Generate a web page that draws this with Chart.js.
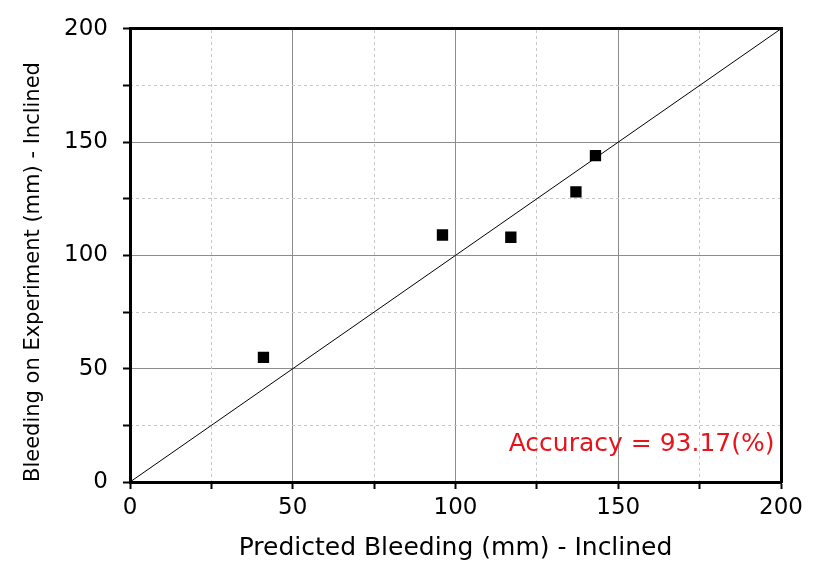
<!DOCTYPE html>
<html>
<head>
<meta charset="utf-8">
<script src="https://cdn.jsdelivr.net/npm/chart.js@4/dist/chart.umd.min.js"></script>
<style>
  html, body { margin: 0; padding: 0; background: #fff; }
  #wrap { width: 814px; height: 567px; }
</style>
</head>
<body>
<div id="wrap"><canvas id="myChart" width="814" height="567"></canvas></div>
<script>
// values
const predicted = [41, 96, 117, 137, 143];   // x, mm
const experiment = [55, 109, 108, 128, 144]; // y, mm
const axisMin = 0, axisMax = 200;
const xTitle = 'Predicted Bleeding (mm) - Inclined';
const yTitle = 'Bleeding on Experiment (mm) - Inclined';
const accuracyText = 'Accuracy = 93.17(%)';

const fam = '"DejaVu Sans", "Liberation Sans", Arial, sans-serif';
const tickFont = { family: fam, size: 23 };

const points = predicted.map((x, i) => ({ x: x, y: experiment[i] }));

// major lines solid grey, minor ones are drawn by the second axes (dashed)
const majorColor = ctx => (ctx.tick && ctx.tick.value % 50 === 0) ? '#8c8c8c' : 'rgba(0,0,0,0)';
const minorColor = ctx => (ctx.tick && ctx.tick.value % 50 !== 0) ? '#c8c8c8' : 'rgba(0,0,0,0)';
const labelEvery50 = v => (v % 50 === 0 ? v : '');

const accuracyLabel = {
   id: 'accuracyLabel',
   afterDatasetsDraw(chart) {
      const c = chart.ctx, xs = chart.scales.x, ys = chart.scales.y;
      c.save();
      c.font = '25px ' + fam;
      c.fillStyle = '#e8141c';
      c.textAlign = 'right';
      c.textBaseline = 'middle';
      c.fillText(accuracyText, xs.getPixelForValue(198), ys.getPixelForValue(16.5));
      c.restore();
   }
};

new Chart(document.getElementById('myChart'), {
   type: 'scatter',
   data: {
      datasets: [{
         type: 'line',
         data: [{ x: axisMin, y: axisMin }, { x: axisMax, y: axisMax }],
         borderColor: '#000',
         borderWidth: 1,
         pointRadius: 0,
         order: 2
      }, {
         data: points,
         pointStyle: 'rect',
         pointRadius: 8,
         backgroundColor: '#000',
         borderColor: '#000',
         borderWidth: 0,
         order: 1
      }]
   },
   options: {
      responsive: false,
      animation: false,
      events: [],
      layout: { padding: { left: 0, right: 33, top: 28, bottom: 0 } },
      plugins: { legend: { display: false }, tooltip: { enabled: false } },
      scales: {
         x: {
            type: 'linear', position: 'bottom', min: axisMin, max: axisMax,
            afterFit: s => { s.height = 85; },
            ticks: { stepSize: 25, autoSkip: false, maxRotation: 0, padding: 5, color: '#000', font: tickFont, callback: labelEvery50 },
            grid: { color: majorColor, lineWidth: 1, tickColor: '#000', tickLength: 7, tickWidth: 2 },
            border: { display: true, color: '#000', width: 3 },
            title: { display: true, text: xTitle, color: '#000', font: { family: fam, size: 25 }, padding: { top: 0, bottom: 4 } }
         },
         y: {
            type: 'linear', position: 'left', min: axisMin, max: axisMax,
            afterFit: s => { s.width = 130; },
            ticks: { stepSize: 25, autoSkip: false, padding: 15, color: '#000', font: tickFont, callback: labelEvery50 },
            grid: { color: majorColor, lineWidth: 1, tickColor: '#000', tickLength: 7, tickWidth: 2 },
            border: { display: true, color: '#000', width: 3 },
            title: { display: true, text: yTitle, align: 'start', color: '#000', font: { family: fam, size: 21 }, padding: { top: 21, bottom: 0 } }
         },
         x2: {
            type: 'linear', position: 'top', min: axisMin, max: axisMax,
            ticks: { display: false, stepSize: 25 },
            grid: { color: minorColor, lineWidth: 1, drawTicks: false },
            border: { display: true, color: '#000', width: 3, dash: [3, 3] }
         },
         y2: {
            type: 'linear', position: 'right', min: axisMin, max: axisMax,
            ticks: { display: false, stepSize: 25 },
            grid: { color: minorColor, lineWidth: 1, drawTicks: false },
            border: { display: true, color: '#000', width: 3, dash: [3, 3] }
         }
      }
   },
   plugins: [accuracyLabel]
});
</script>
</body>
</html>
